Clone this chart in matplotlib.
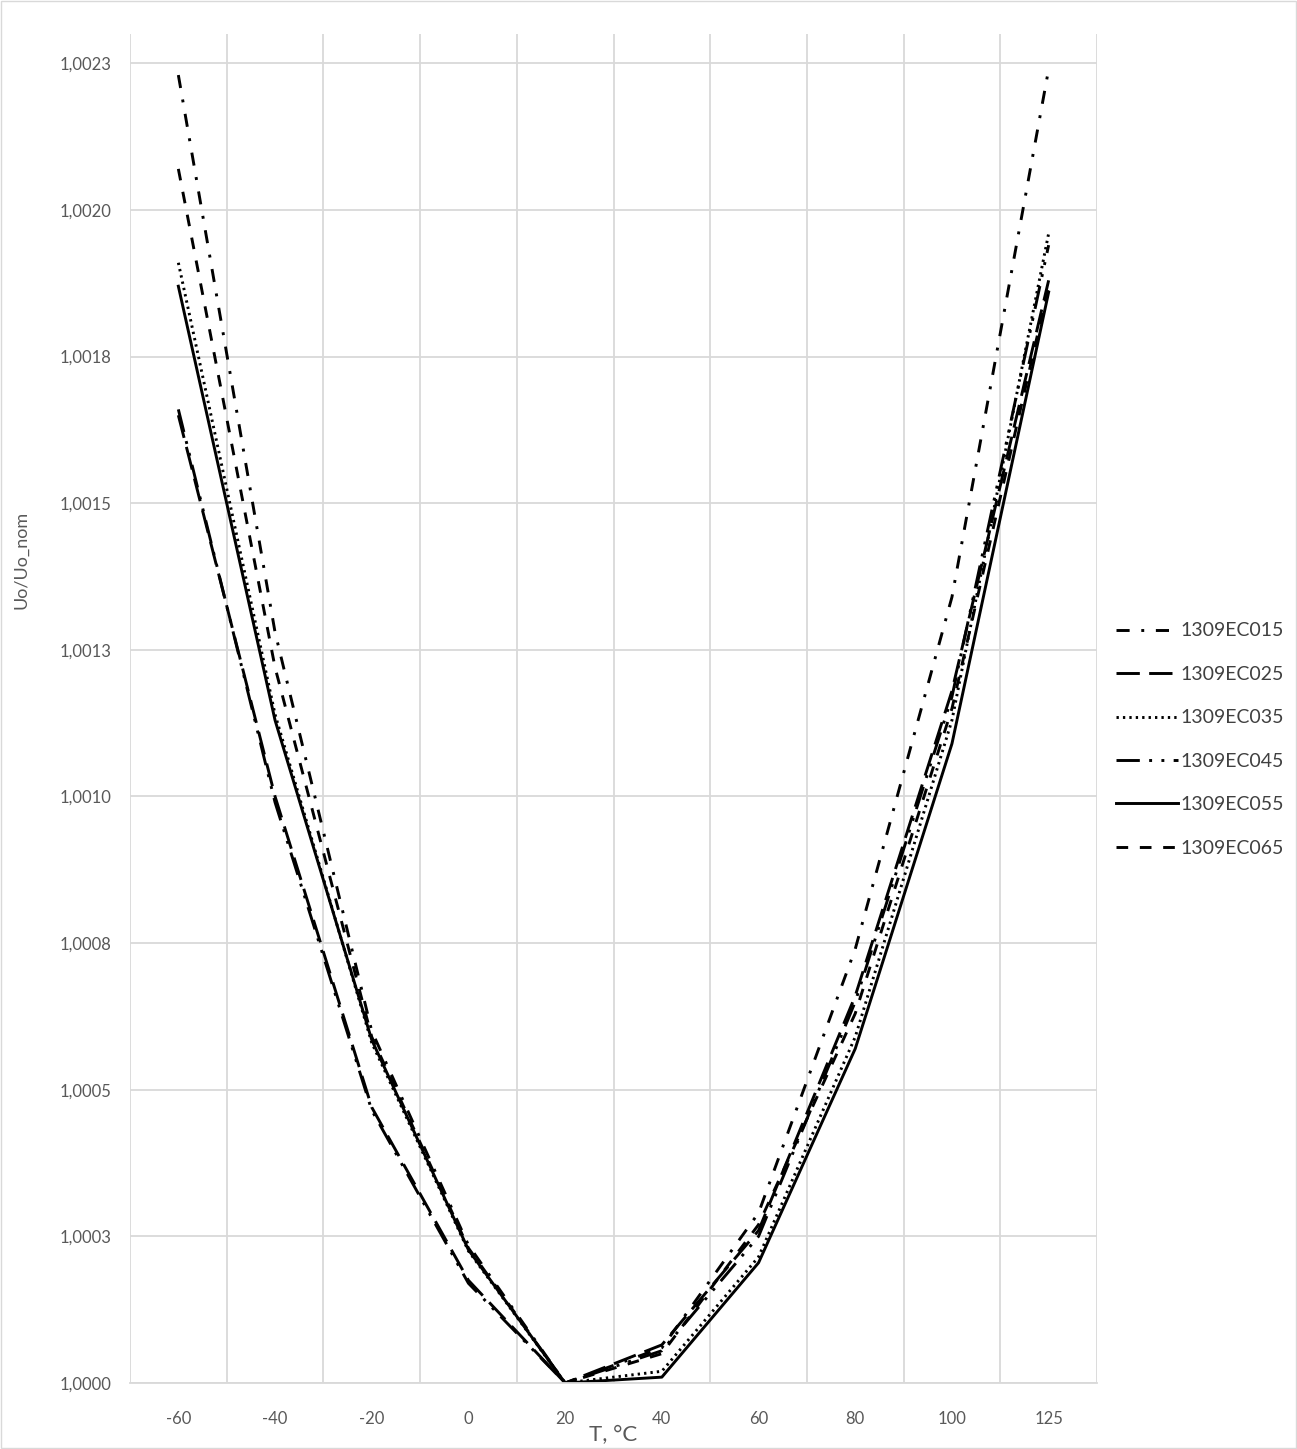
import matplotlib.pyplot as plt
from matplotlib.patches import Rectangle

plt.rcParams['font.family'] = ['Lato', 'DejaVu Sans']

temps = ['-60', '-40', '-20', '0', '20', '40', '60', '80', '100', '125']

ec015 = [1.00223, 1.00128, 1.00060, 1.000235, 1.0, 1.000060, 1.00029, 1.00074, 1.00134, 1.00224]
ec025 = [1.00165, 1.00100, 1.00047, 1.000175, 1.0, 1.000065, 1.00026, 1.00066, 1.00118, 1.00188]
ec035 = [1.00191, 1.00114, 1.00058, 1.000225, 1.0, 1.000020, 1.000215, 1.00059, 1.00113, 1.00196]
ec045 = [1.00166, 1.00099, 1.000465, 1.000170, 1.0, 1.000055, 1.00025, 1.00065, 1.00117, 1.00194]
ec055 = [1.00187, 1.00113, 1.000585, 1.000227, 1.0, 1.000010, 1.000205, 1.00057, 1.00109, 1.00186]
ec065 = [1.00207, 1.00122, 1.00059, 1.000230, 1.0, 1.000050, 1.00027, 1.00063, 1.00115, 1.00187]

names = ['1309EC015', '1309EC025', '1309EC035', '1309EC045', '1309EC055', '1309EC065']
series = [ec015, ec025, ec035, ec045, ec055, ec065]
styles = [(0, (4.5, 4, 1, 4)),
          (0, (8, 3.2)),
          (0, (0.8, 1.4)),
          (0, (8, 3.2, 1, 3.2, 1, 3.2)),
          '-',
          (0, (4, 4))]

y_ticks = [1.0 + 0.00025 * i for i in range(10)]
y_labels = ['1,0000', '1,0003', '1,0005', '1,0008', '1,0010',
            '1,0013', '1,0015', '1,0018', '1,0020', '1,0023']

fig = plt.figure(figsize=(12.97, 14.49), dpi=100)
ax = fig.add_axes([130 / 1297, 66 / 1449, 967 / 1297, 1349 / 1449])

x = list(range(len(temps)))
for name, vals, ls in zip(names, series, styles):
    ax.plot(x, vals, color='black', lw=2.1, linestyle=ls, label=name)

##### axes ##########
ax.set_xlim(-0.5, len(temps) - 0.5)
ax.set_ylim(1.0, 1.0023)
ax.set_xticks(x)
ax.set_xticklabels(temps)
ax.set_xticks([i - 0.5 for i in range(len(temps) + 1)], minor=True)
ax.set_yticks(y_ticks)
ax.set_yticklabels(y_labels)
ax.grid(False)
ax.grid(True, which='minor', axis='x', color='#d9d9d9', lw=1.3)
ax.grid(True, which='major', axis='y', color='#d9d9d9', lw=1.3)
ax.set_axisbelow(True)
ax.tick_params(which='both', length=0)
ax.tick_params(axis='x', pad=20, labelsize=12, labelcolor='#595959')
ax.tick_params(axis='y', pad=13, labelsize=12, labelcolor='#595959')
for s in ['top', 'left', 'right']:
    ax.spines[s].set_visible(False)
ax.spines['bottom'].set_color('#d9d9d9')
ax.spines['bottom'].set_linewidth(1.3)

ax.set_xlabel('T, °C', fontsize=16, color='#595959')
ax.xaxis.set_label_coords(0.5, -0.0315)
ax.set_ylabel('Uo/Uo_nom', fontsize=13, color='#595959')
ax.yaxis.set_label_coords(-0.104, 0.61)

fig.legend(loc='center left', bbox_to_anchor=(1098 / 1297, 0.4896),
           frameon=False, fontsize=14, handlelength=3.2, handletextpad=0.12,
           labelspacing=1.36, labelcolor='#404040')

fig.patches.append(Rectangle((0.001, 0.001), 0.998, 0.998, transform=fig.transFigure,
                             fill=False, edgecolor='#d9d9d9', lw=1.0))

plt.savefig('out.png')
plt.close('all')
